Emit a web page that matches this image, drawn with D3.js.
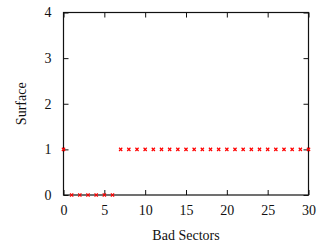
<!DOCTYPE html>
<html>
<head>
<meta charset="utf-8">
<script src="https://cdn.jsdelivr.net/npm/d3@7"></script>
<style>
  body { margin: 0; background: #fff; }
</style>
</head>
<body>
<div id="chart"></div>
<script>
// bad sectors vs surface
const badSectors = d3.range(0, 31);
const surface = [1, 0, 0, 0, 0, 0, 0, 1, 1, 1, 1, 1, 1, 1, 1, 1, 1, 1, 1, 1, 1, 1, 1, 1, 1, 1, 1, 1, 1, 1, 1];
const xTicks = [0, 5, 10, 15, 20, 25, 30];
const yTicks = [0, 1, 2, 3, 4];

const width = 326, height = 244,
    margin = ({top: 12.5, right: 17.5, bottom: 49, left: 63.5});
const serif = "'Liberation Serif', 'Times New Roman', 'DejaVu Serif', serif";

const svg = d3.select("#chart").append("svg")
    .attr("width", width).attr("height", height)
    .attr("font-family", serif);

const x = d3.scaleLinear().domain([0, 30])
    .range([margin.left, width - margin.right]);
const y = d3.scaleLinear().domain([0, 4])
    .range([height - margin.bottom, margin.top]);

// inward ticks on all four sides, labels only bottom/left
svg.append("g")
    .attr("transform", `translate(0,${y(0)})`)
    .call(d3.axisBottom(x).tickValues(xTicks).tickFormat(d3.format("d")).tickSizeInner(-5).tickSizeOuter(0).tickPadding(10))
    .call(g => g.select(".domain").remove());
svg.append("g")
    .attr("transform", `translate(0,${y(4)})`)
    .call(d3.axisTop(x).tickValues(xTicks).tickSizeInner(-5).tickSizeOuter(0).tickFormat(""))
    .call(g => g.select(".domain").remove());
svg.append("g")
    .attr("transform", `translate(${x(0)},0)`)
    .call(d3.axisLeft(y).tickValues(yTicks).tickFormat(d3.format("d")).tickSizeInner(-5).tickSizeOuter(0).tickPadding(12))
    .call(g => g.select(".domain").remove());
svg.append("g")
    .attr("transform", `translate(${x(30)},0)`)
    .call(d3.axisRight(y).tickValues(yTicks).tickSizeInner(-5).tickSizeOuter(0).tickFormat(""))
    .call(g => g.select(".domain").remove());

svg.selectAll("g").attr("font-family", serif);
svg.selectAll(".tick text")
    .attr("font-family", serif).attr("font-size", 14).attr("fill", "#111");
svg.selectAll(".tick line").attr("stroke", "#111");

svg.append("rect")
    .attr("x", x(0)).attr("y", y(4))
    .attr("width", x(30) - x(0)).attr("height", y(0) - y(4))
    .attr("fill", "none").attr("stroke", "#111").attr("stroke-width", 1.2);

// points
const s = 1.6;
svg.append("g").selectAll("path")
    .data(badSectors.map((b, i) => [b, surface[i]]))
    .join("path")
    .attr("d", d => {
        const px = x(d[0]), py = y(d[1]);
        return `M${px - s},${py - s}L${px + s},${py + s}M${px - s},${py + s}L${px + s},${py - s}`;
    })
    .attr("stroke", "#f00").attr("stroke-width", 1.2);

svg.append("text")
    .attr("x", (x(0) + x(30)) / 2).attr("y", 240)
    .attr("text-anchor", "middle")
    .attr("font-size", 14).attr("fill", "#111")
    .text("Bad Sectors");

svg.append("text")
    .attr("transform", `translate(26,${(y(0) + y(4)) / 2}) rotate(-90)`)
    .attr("text-anchor", "middle")
    .attr("font-size", 14).attr("fill", "#111")
    .text("Surface");
</script>
</body>
</html>
